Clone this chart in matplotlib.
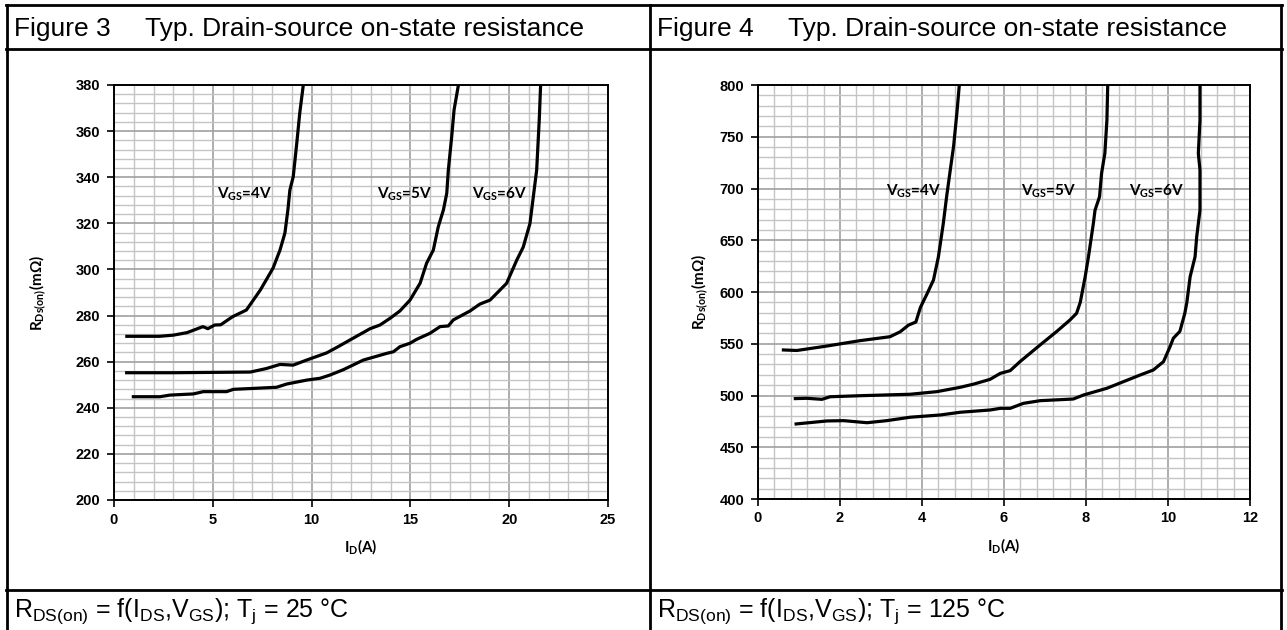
import matplotlib
matplotlib.use("Agg")
import matplotlib.pyplot as plt
from matplotlib.ticker import MultipleLocator
from matplotlib.lines import Line2D

plt.rcParams['mathtext.fontset'] = 'custom'
plt.rcParams['mathtext.rm'] = 'Liberation Sans'
plt.rcParams['mathtext.bf'] = 'Lato:bold'
plt.rcParams['mathtext.fallback'] = 'stixsans'

# ---------------- data: Figure 3 (Tj = 25 C) ----------------
id_4v_25 = [0.65, 2.3, 3.0, 3.7, 4.5, 4.75, 5.1, 5.4, 6.0, 6.7, 7.05, 7.4, 7.7, 8.05, 8.4, 8.65, 8.8, 8.9, 9.07, 9.25, 9.4, 9.58]
r_4v_25 = [271.0, 271.0, 271.5, 272.6, 275.2, 274.3, 275.9, 276.0, 279.5, 282.4, 286.7, 291.0, 295.4, 300.6, 308.4, 315.8, 325.8, 334.4, 340.2, 354.8, 367.8, 380.0]

id_5v_25 = [0.64, 3.0, 6.9, 7.7, 8.4, 9.07, 9.75, 10.76, 11.3, 11.94, 12.96, 13.46, 13.97, 14.47, 14.98, 15.49, 15.82, 16.16, 16.41, 16.67, 16.84, 16.92, 17.09, 17.21, 17.43]
r_5v_25 = [255.2, 255.2, 255.5, 257.0, 258.8, 258.5, 260.7, 263.8, 266.3, 269.4, 274.3, 275.9, 278.8, 282.0, 286.7, 294.0, 302.7, 308.4, 318.5, 325.8, 333.0, 343.1, 357.6, 369.2, 380.0]

id_6v_25 = [0.98, 2.33, 2.83, 4.01, 4.52, 5.7, 6.04, 7.05, 8.23, 8.74, 9.75, 10.43, 10.93, 11.6, 12.62, 13.8, 14.14, 14.47, 14.98, 15.32, 15.99, 16.5, 16.92, 17.17, 18.02, 18.52, 19.03, 19.87, 20.38, 20.71, 21.05, 21.22, 21.39, 21.52, 21.59]
r_6v_25 = [244.8, 244.8, 245.5, 246.0, 247.0, 247.0, 248.0, 248.4, 248.9, 250.3, 252.0, 252.8, 254.2, 256.5, 260.7, 263.6, 264.3, 266.5, 268.0, 269.7, 272.3, 275.2, 275.5, 278.1, 282.0, 285.0, 286.7, 294.0, 304.0, 309.7, 319.9, 331.5, 343.1, 364.8, 380.0]

# ---------------- data: Figure 4 (Tj = 125 C) ----------------
id_4v_125 = [0.62, 0.95, 1.68, 2.49, 3.22, 3.47, 3.67, 3.85, 3.96, 4.12, 4.28, 4.4, 4.52, 4.6, 4.69, 4.77, 4.85, 4.91]
r_4v_125 = [544.0, 543.5, 547.8, 553.0, 556.8, 561.6, 568.0, 571.0, 585.0, 598.0, 611.6, 634.0, 666.4, 692.0, 718.0, 740.6, 772.6, 800.0]

id_5v_125 = [0.91, 1.19, 1.56, 1.76, 2.49, 3.71, 4.36, 4.93, 5.26, 5.66, 5.91, 6.15, 6.39, 6.88, 7.29, 7.61, 7.77, 7.86, 7.98, 8.06, 8.18, 8.22, 8.33, 8.38, 8.46, 8.51, 8.53]
r_5v_125 = [497.0, 497.3, 496.3, 498.8, 499.8, 501.2, 503.7, 507.9, 511.0, 515.6, 521.4, 524.0, 532.7, 548.8, 562.0, 573.0, 579.4, 590.0, 614.8, 634.0, 666.4, 679.0, 692.0, 714.7, 734.0, 766.0, 800.0]

id_6v_125 = [0.93, 1.68, 2.09, 2.66, 3.14, 3.71, 4.45, 4.93, 5.66, 5.91, 6.15, 6.47, 6.88, 7.69, 7.94, 8.51, 8.91, 9.32, 9.64, 9.89, 10.05, 10.13, 10.29, 10.41, 10.46, 10.54, 10.66, 10.7, 10.78, 10.78, 10.74, 10.78, 10.78]
r_6v_125 = [472.5, 475.4, 475.7, 473.7, 475.7, 479.0, 481.2, 483.8, 486.0, 487.6, 487.6, 492.4, 495.0, 496.6, 500.5, 507.0, 513.3, 519.8, 524.6, 532.7, 547.2, 555.3, 562.0, 579.4, 590.0, 614.8, 634.0, 653.4, 679.0, 717.9, 734.0, 766.0, 800.0]

labels_vgs = [r'$\mathbf{V_{GS}}$=4V', r'$\mathbf{V_{GS}}$=5V', r'$\mathbf{V_{GS}}$=6V']
label_x_25 = [6.63, 14.73, 19.53]
label_x_125 = [3.79, 7.08, 9.72]
label_y_25 = 332.7
label_y_125 = 697.0

titles = ['Figure 3', 'Figure 4']
title_text = 'Typ. Drain-source on-state resistance'
tj_values = ['25', '125']

W, H = 1287, 630
fig = plt.figure(figsize=(W / 100, H / 100), dpi=100)


def px_axes(x0, y0, x1, y1):
    return fig.add_axes([x0 / W, 1 - y1 / H, (x1 - x0) / W, (y1 - y0) / H])


def style_axes(ax, xlim, ylim, xmaj, xmin, ymaj, ymin):
    ax.set_xlim(*xlim)
    ax.set_ylim(*ylim)
    ax.xaxis.set_major_locator(MultipleLocator(xmaj))
    ax.xaxis.set_minor_locator(MultipleLocator(xmin))
    ax.yaxis.set_major_locator(MultipleLocator(ymaj))
    ax.yaxis.set_minor_locator(MultipleLocator(ymin))
    ax.grid(which='minor', color='#c4c4c4', lw=1.0)
    ax.grid(which='major', color='#a0a0a0', lw=1.2)
    ax.set_axisbelow(True)
    for s in ax.spines.values():
        s.set_color('black')
        s.set_linewidth(1.4)
    ax.tick_params(which='major', direction='out', length=5, width=1.2, color='black',
                   labelsize=10.5)
    ax.tick_params(which='minor', length=0)
    for lab in ax.get_xticklabels() + ax.get_yticklabels():
        lab.set_fontfamily('Liberation Sans')
        lab.set_fontweight('bold')
    ax.tick_params(axis='y', pad=5)
    ax.tick_params(axis='x', pad=4)


ax1 = px_axes(114, 85, 608, 500)
style_axes(ax1, (0, 25), (200, 380), 5, 1, 20, 4)
for xs, ys in [(id_4v_25, r_4v_25), (id_5v_25, r_5v_25), (id_6v_25, r_6v_25)]:
    ax1.plot(xs, ys, color='black', lw=2.3, solid_joinstyle='round', clip_on=True)
for lx, lt in zip(label_x_25, labels_vgs):
    ax1.text(lx, label_y_25, lt, ha='center', va='center', fontsize=11,
             family='Lato', fontweight='bold')

ax2 = px_axes(758, 85, 1250, 499)
style_axes(ax2, (0, 12), (400, 800), 2, 0.4, 50, 10)
for xs, ys in [(id_4v_125, r_4v_125), (id_5v_125, r_5v_125), (id_6v_125, r_6v_125)]:
    ax2.plot(xs, ys, color='black', lw=2.3, solid_joinstyle='round', clip_on=True)
for lx, lt in zip(label_x_125, labels_vgs):
    ax2.text(lx, label_y_125, lt, ha='center', va='center', fontsize=11,
             family='Lato', fontweight='bold')

for ax, ylx in ((ax1, (38 - 114) / 494), (ax2, (700 - 758) / 492)):
    ax.set_xlabel(r'$\mathbf{I_D}$(A)', fontsize=11, family='Lato', fontweight='bold')
    ax.xaxis.set_label_coords(0.5, -(547 - 500) / 415)
    ax.set_ylabel(r'$\mathbf{R_{Ds(on)}}$(mΩ)', fontsize=11, family='Lato', fontweight='bold')
    ax.yaxis.set_label_coords(ylx, 0.5)
    ax.xaxis.label.set_va('center')
    ax.yaxis.label.set_va('center')

# frame lines
def hline(y, x0, x1, lw=2.0):
    fig.add_artist(Line2D([x0 / W, x1 / W], [1 - y / H, 1 - y / H], color='black', lw=lw))


def vline(x, y0, y1, lw=2.0):
    fig.add_artist(Line2D([x / W, x / W], [1 - y0 / H, 1 - y1 / H], color='black', lw=lw))

hline(5, 6, 1282)
hline(49, 6, 1282)
hline(590, 6, 1282)
vline(7, 5, 630)
vline(650, 5, 630)
vline(1281, 5, 630)

for i, px0 in enumerate([7, 650]):
    fig.text((px0 + 7) / W, 1 - 29 / H, titles[i], fontsize=19, family='Liberation Sans',
             ha='left', va='center')
    fig.text((px0 + 138) / W, 1 - 29 / H, title_text, fontsize=19, family='Liberation Sans',
             ha='left', va='center')
    footer = (r'$\mathregular{R_{DS(on)}}$' + ' = f(' + r'$\mathregular{I_{DS}}$' + ','
              + r'$\mathregular{V_{GS}}$' + '); ' + r'$\mathregular{T_j}$' + ' = '
              + tj_values[i] + ' °C')
    fig.text((px0 + 7) / W, 1 - 611 / H, footer, fontsize=18, family='Liberation Sans',
             ha='left', va='center')

fig.savefig('out.png', dpi=100)
